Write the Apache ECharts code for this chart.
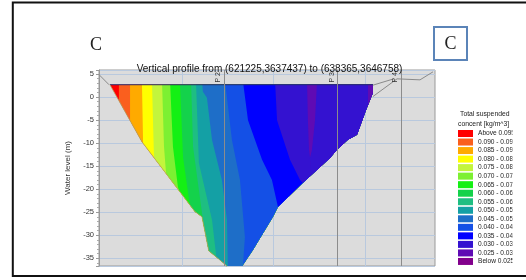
<!DOCTYPE html>
<html>
<head>
<meta charset="utf-8">
<script src="https://cdn.jsdelivr.net/npm/echarts@6/dist/echarts.min.js"></script>
<style>
  html, body { margin: 0; padding: 0; background: #fff; }
  #main { width: 526px; height: 280px; }
</style>
</head>
<body>
<div id="main"></div>
<script>
// 轴范围 (km / m)
const xMin = 0.44, xMax = 18.84;
const yMin = -36.7, yMax = 5.9;
const surfaceLevel = 2.7;

// 浓度分级
const bandLabels = ['Above 0.095', '0.090 - 0.095', '0.085 - 0.090', '0.080 - 0.085',
    '0.075 - 0.080', '0.070 - 0.075', '0.065 - 0.070', '0.060 - 0.065',
    '0.055 - 0.060', '0.050 - 0.055', '0.045 - 0.050', '0.040 - 0.045',
    '0.035 - 0.040', '0.030 - 0.035', '0.025 - 0.030', 'Below 0.025'];
const bandColors = ['#ff0000', '#fa5f1e', '#ffaa00', '#ffff00',
    '#c3f53c', '#7df032', '#14f014', '#14d24b',
    '#1ebe82', '#14a0a5', '#1e6ec8', '#1450e6',
    '#0000ff', '#3412d0', '#5f0ab4', '#82008c'];

// 每个色带的左边界 (从水面到底), 以及对应的分级
const zoneLevel = [0, 1, 2, 3, 4, 5, 6, 7, 8, 9, 10, 11, 12, 13, 14, 13, 14];
const zoneEdges = [
    [[0.3, 3.5], [0.3, -38]],
    [[1.53, 3.5], [1.53, -38]],
    [[2.14, 3.5], [2.14, -38]],
    [[2.79, 3.5], [2.85, -9], [2.9, -38]],
    [[3.34, 3.5], [3.45, -13], [3.61, -22.3], [3.7, -38]],
    [[3.89, 3.5], [4.0, -10.8], [4.22, -22.3], [4.4, -38]],
    [[4.33, 3.5], [4.49, -10.8], [4.76, -19.5], [5.2, -25.6], [5.5, -38]],
    [[4.87, 3.5], [5.04, -13], [5.53, -26.7], [5.91, -32.1], [6.1, -38]],
    [[5.48, 3.5], [5.59, -10.8], [6.08, -25.2], [6.41, -33.9], [6.52, -38]],
    [[5.75, 3.5], [5.91, -14.3], [6.63, -26.7], [6.96, -38]],
    [[6.08, 3.5], [6.13, 1.15], [6.35, -0.15], [6.63, -9.3], [7.17, -18.0], [7.45, -26.7], [7.5, -38]],
    [[7.34, 3.5], [7.72, -9.3], [8.16, -18.0], [8.43, -30.4], [8.3, -38]],
    [[8.32, 3.5], [8.6, -5], [9.37, -13.6], [9.91, -18.0], [10.24, -23.85], [10.6, -38]],
    [[10.08, 3.5], [10.19, -5], [10.9, -13.6], [11.45, -18.0], [11.9, -20], [12.5, -38]],
    [[11.83, 3.5], [11.88, -5], [11.94, -11.5], [12.0, -13.2], [12.6, -38]],
    [[12.38, 3.5], [12.27, -5], [12.1, -11.5], [11.99, -13.3], [12.5, -38]],
    [[15.17, 3.5], [15.17, -38]]
];

// 断面轮廓
const leftBank = [[1.04, 2.7], [2.79, -9.7], [5.7, -24.9], [6.08, -26.0], [6.45, -33.4], [7.4, -36.5], [7.5, -38]];
const rightBank = [[8.35, -38], [8.32, -36.5], [8.87, -33.2], [9.97, -26.0], [10.24, -23.85], [11.61, -18.63],
    [13.09, -13.2], [13.47, -11.46], [14.07, -9.28], [14.57, -8.2], [15.07, -2.76], [15.44, 0.93], [15.44, 2.7]];

// 岸线延伸 (灰线)
const bankLineLeft = [[0.44, 4.9], [0.99, 2.7]];
const bankLineRight1 = [[15.44, 2.6], [16.6, 4.0]];
const bankLineRight2 = [[15.44, 0.13], [16.76, 3.98], [18.02, 3.76], [18.73, 5.5]];

// 网格线与剖面点
const gridX = [5, 10, 15];
const profilePoints = [{ name: 'P 2', x: 7.28 }, { name: 'P 3', x: 13.5 }, { name: 'P 4', x: 16.98 }];

const section = leftBank.concat(rightBank);

const legendX = 458, legendY = 130, legendStep = 8.53;
const graphicList = [
    { type: 'rect', shape: { x: 12.8, y: 2.5, width: 600, height: 273.5 }, style: { fill: 'none', stroke: '#111', lineWidth: 2 } },
    { type: 'text', x: 96, y: 45, style: { text: 'C', font: '18px "Liberation Serif"', fill: '#222', align: 'center', verticalAlign: 'middle' } },
    { type: 'rect', shape: { x: 434, y: 27, width: 33, height: 33 }, style: { fill: '#fff', stroke: '#5b84b8', lineWidth: 2 } },
    { type: 'text', x: 450.5, y: 44, style: { text: 'C', font: '18px "Liberation Serif"', fill: '#222', align: 'center', verticalAlign: 'middle' } },
    { type: 'text', x: 460, y: 114, style: { text: 'Total suspended', font: '6.8px "Liberation Sans"', fill: '#222', verticalAlign: 'middle' } },
    { type: 'text', x: 458, y: 124, style: { text: 'concent [kg/m^3]', font: '6.8px "Liberation Sans"', fill: '#222', verticalAlign: 'middle' } }
];
bandLabels.forEach(function (label, i) {
    graphicList.push({ type: 'rect', shape: { x: legendX, y: legendY + i * legendStep, width: 15, height: 7 }, style: { fill: bandColors[i] } });
    graphicList.push({ type: 'text', x: 478, y: legendY + 3.5 + i * legendStep,
        style: { text: label, font: '6.6px "Liberation Sans"', fill: '#222', verticalAlign: 'middle' } });
});
// 右侧被裁剪
graphicList.push({ type: 'rect', z: 100, shape: { x: 512.5, y: 100, width: 20, height: 172 }, style: { fill: '#fff' } });

const chart = echarts.init(document.getElementById('main'));
chart.setOption({
    animation: false,
    backgroundColor: '#fff',
    title: {
        text: 'Vertical profile from (621225,3637437) to (638365,3646758)',
        left: 264.5, top: 59, textAlign: 'center',
        textStyle: { fontSize: 10, fontWeight: 'normal', color: '#111', fontFamily: 'Liberation Sans' }
    },
    grid: {
        left: 99, top: 70, width: 336, height: 196,
        show: true, backgroundColor: '#dcdcdc', borderColor: '#9a9a9a', borderWidth: 1
    },
    xAxis: {
        type: 'value', min: xMin, max: xMax,
        axisLine: { show: false }, axisTick: { show: false }, axisLabel: { show: false }, splitLine: { show: false }
    },
    yAxis: {
        type: 'value', min: yMin, max: yMax, splitNumber: 8,
        name: 'Water level (m)', nameLocation: 'middle', nameGap: 19,
        nameTextStyle: { fontSize: 8, color: '#333', fontFamily: 'Liberation Sans' },
        axisLine: { show: true, lineStyle: { color: '#999' } },
        axisTick: { show: true, length: 3, lineStyle: { color: '#999' } },
        minorTick: { show: true, splitNumber: 5, length: 2, lineStyle: { color: '#aaa' } },
        axisLabel: { fontSize: 7.5, color: '#333', margin: 5, fontFamily: 'Liberation Sans', showMinLabel: false, showMaxLabel: false },
        splitLine: { show: true, lineStyle: { color: '#b9c9de', width: 1 } }
    },
    graphic: graphicList,
    series: [
        {
            // 竖向网格线
            type: 'line', data: [], z: 1, silent: true,
            markLine: {
                z: 1, silent: true, symbol: ['none', 'none'], label: { show: false },
                lineStyle: { color: '#b9c9de', type: 'solid', width: 1 },
                data: gridX.map(function (v) { return { xAxis: v }; })
            }
        },
        {
            type: 'custom', z: 2, clip: true, silent: true,
            data: [0],
            renderItem: function (params, api) {
                const toPx = function (p) { return api.coord(p); };
                const children = zoneEdges.map(function (edge, i) {
                    const pts = edge.map(toPx);
                    pts.push(api.coord([xMax + 1, -38]));
                    pts.push(api.coord([xMax + 1, 3.5]));
                    return { type: 'polygon', shape: { points: pts }, style: { fill: bandColors[zoneLevel[i]] } };
                });
                return {
                    type: 'group',
                    children: children,
                    clipPath: { type: 'polygon', shape: { points: section.map(toPx) } }
                };
            }
        },
        {
            type: 'line', z: 3, silent: true, showSymbol: false,
            data: [[leftBank[0][0], surfaceLevel], [15.44, surfaceLevel]],
            lineStyle: { color: '#2a2a6a', width: 1 },
            markLine: {
                z: 6, silent: true, symbol: ['none', 'none'],
                lineStyle: { color: '#8c8c8c', type: 'solid', width: 1 },
                label: { show: true, position: 'insideEndTop', fontSize: 7, color: '#333', distance: 2,
                    fontFamily: 'Liberation Sans',
                    formatter: function (p) { return p.name; } },
                data: profilePoints.map(function (p) { return { name: p.name, xAxis: p.x }; })
            }
        },
        {
            type: 'line', z: 3, silent: true, showSymbol: false,
            data: leftBank, lineStyle: { color: '#b4a460', width: 0.8 }
        },
        { type: 'line', z: 3, silent: true, showSymbol: false, data: bankLineLeft, lineStyle: { color: '#8a8a8a', width: 1 } },
        { type: 'line', z: 3, silent: true, showSymbol: false, data: bankLineRight1, lineStyle: { color: '#8a8a8a', width: 1 } },
        { type: 'line', z: 3, silent: true, showSymbol: false, data: bankLineRight2, lineStyle: { color: '#8a8a8a', width: 1 } }
    ]
});
</script>
</body>
</html>
